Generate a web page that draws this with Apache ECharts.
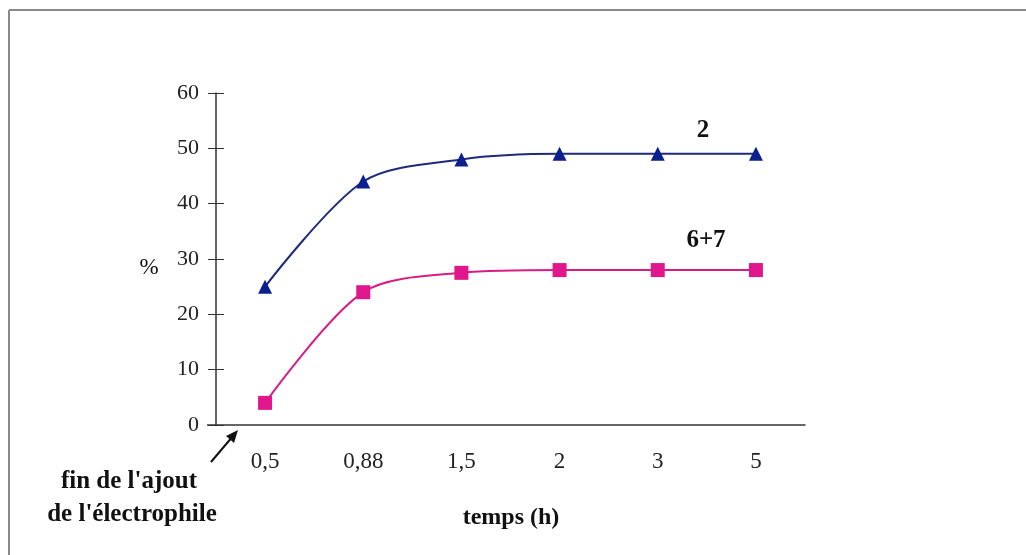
<!DOCTYPE html>
<html>
<head>
<meta charset="utf-8">
<script src="https://cdn.jsdelivr.net/npm/echarts@6/dist/echarts.min.js"></script>
<style>
  html, body { margin: 0; padding: 0; background: #fff; }
  #chart { width: 1026px; height: 555px; }
</style>
</head>
<body>
<div id="chart"></div>
<script>
var temps = ['0,5', '0,88', '1,5', '2', '3', '5'];
var serie2 = [25, 44, 48, 49, 49, 49];
var serie67 = [4, 24, 27.5, 28, 28, 28];

var serif = '"Liberation Serif", "DejaVu Serif", serif';

function txt(x, y, s, font) {
    return {
        type: 'text', x: x, y: y,
        style: { text: s, font: font, fill: '#111', align: 'center', verticalAlign: 'middle' }
    };
}

var myChart = echarts.init(document.getElementById('chart'));
myChart.setOption(option = {
    backgroundColor: '#fff',
    animation: false,
    grid: {
        left: 216,
        top: 93,
        width: 589,
        height: 332
    },
    xAxis: {
        type: 'category',
        data: temps,
        boundaryGap: true,
        axisLine: { lineStyle: { color: '#333', width: 1.5 } },
        axisTick: { show: false },
        axisLabel: {
            margin: 25,
            color: '#222',
            fontFamily: serif,
            fontSize: 23
        }
    },
    yAxis: [
        {
            type: 'value',
            min: 0,
            max: 60,
            interval: 10,
            splitLine: { show: false },
            axisLine: { show: true, onZero: false, lineStyle: { color: '#333', width: 1.5 } },
            axisTick: { show: true, length: 8, lineStyle: { color: '#333' } },
            axisLabel: {
                margin: 17,
                color: '#222',
                fontFamily: serif,
                fontSize: 22
            }
        },
        {
            // graduations vers l'intérieur (elles traversent l'axe)
            type: 'value',
            position: 'left',
            min: 0,
            max: 60,
            interval: 10,
            splitLine: { show: false },
            axisLine: { show: false },
            axisTick: { show: true, inside: true, length: 8, lineStyle: { color: '#333' } },
            axisLabel: { show: false }
        }
    ],
    series: [
        {
            name: '2',
            type: 'line',
            data: serie2,
            smooth: 0.3,
            symbol: 'triangle',
            symbolSize: 14,
            lineStyle: { color: '#1e2a7c', width: 2 },
            itemStyle: { color: '#0c1f8f' }
        },
        {
            name: '6+7',
            type: 'line',
            data: serie67,
            smooth: 0.3,
            symbol: 'rect',
            symbolSize: 14,
            lineStyle: { color: '#d81e84', width: 2 },
            itemStyle: { color: '#e0168c' }
        }
    ],
    graphic: [
        // cadre
        { type: 'line', shape: { x1: 9, y1: 10, x2: 1026, y2: 10 }, style: { stroke: '#8a8a8a', lineWidth: 2 } },
        { type: 'line', shape: { x1: 9, y1: 10, x2: 9, y2: 555 }, style: { stroke: '#8a8a8a', lineWidth: 2 } },
        // bout d'axe x à gauche
        { type: 'line', shape: { x1: 207, y1: 425, x2: 216, y2: 425 }, style: { stroke: '#333', lineWidth: 1.5 } },
        txt(149, 268, '%', '23px ' + serif),
        txt(703, 131, '2', 'bold 25px ' + serif),
        txt(706, 241, '6+7', 'bold 25px ' + serif),
        txt(511, 518, 'temps (h)', 'bold 24px ' + serif),
        txt(129, 482, "fin de l'ajout", 'bold 25px ' + serif),
        txt(132, 515, "de l'électrophile", 'bold 25px ' + serif),
        // flèche
        { type: 'line', shape: { x1: 211, y1: 462, x2: 233, y2: 436 }, style: { stroke: '#111', lineWidth: 2 } },
        { type: 'polygon', shape: { points: [[238, 430], [226, 436], [234, 443]] }, style: { fill: '#111' } }
    ]
}, true);
</script>
</body>
</html>
